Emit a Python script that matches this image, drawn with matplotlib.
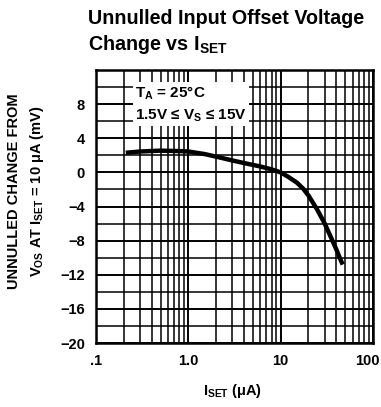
import matplotlib
matplotlib.use("Agg")
import matplotlib.pyplot as plt
from matplotlib.ticker import FixedLocator, MultipleLocator, NullFormatter
from matplotlib.transforms import ScaledTranslation

# curve
i_set = [0.21, 0.3, 0.5, 0.8, 1.0, 1.5, 2.0, 3.0, 4.0, 6.0, 8.0, 10.0, 12.0, 15.0,
         17.5, 20.0, 25.0, 30.0, 35.0, 40.0, 44.0, 47.0]
vos_change = [2.3, 2.45, 2.55, 2.5, 2.45, 2.15, 1.85, 1.4, 1.1, 0.7, 0.35, 0.0, -0.5, -1.2,
              -1.9, -2.7, -4.4, -6.0, -7.6, -9.0, -10.1, -10.8]

x_ticks = [0.1, 1.0, 10, 100]
x_labels = [".1", "1.0", "10", "100"]
y_ticks = [-20, -16, -12, -8, -4, 0, 4, 8]
y_labels = ["\u221220", "\u221216", "\u221212", "\u22128", "\u22124", "0", "4", "8"]

plt.rcParams["mathtext.default"] = "regular"
plt.rcParams["font.family"] = ["Liberation Sans", "DejaVu Sans"]

fig = plt.figure(figsize=(3.81, 4.07), dpi=100)
ax = fig.add_axes([0.252, 0.157, 0.727, 0.671])

ax.plot(i_set, vos_change, color="black", lw=3.2, solid_capstyle="butt", zorder=3)

ax.set_xscale("log")
ax.set_xlim(0.1, 100)
ax.set_ylim(-20, 12)

ax.xaxis.set_major_locator(FixedLocator(x_ticks))
ax.set_xticklabels(x_labels)
minor_x = [m * d for d in (0.1, 1, 10) for m in range(2, 10)]
ax.xaxis.set_minor_locator(FixedLocator(minor_x))
ax.xaxis.set_minor_formatter(NullFormatter())
ax.yaxis.set_major_locator(FixedLocator(y_ticks))
ax.set_yticklabels(y_labels)
ax.yaxis.set_minor_locator(MultipleLocator(2))

ax.grid(True, which="major", color="black", lw=1.4)
ax.grid(True, which="minor", color="black", lw=1.1)
ax.tick_params(which="both", length=0, pad=8)
for lab in ax.get_xticklabels() + ax.get_yticklabels():
    lab.set_fontweight("bold")
    lab.set_fontsize(10.5)
# keep "100" inside the figure like the original
last = ax.get_xticklabels()[-1]
last.set_transform(last.get_transform() + ScaledTranslation(-6 / 100, 0, fig.dpi_scale_trans))
for s in ax.spines.values():
    s.set_linewidth(1.8)

ax.text(0.265, 8, "T$_A$ = 25\u00b0C\n1.5V \u2264 V$_S$ \u2264 15V",
        fontweight="bold", fontsize=11, va="center", ha="left", linespacing=1.45,
        bbox=dict(facecolor="white", edgecolor="none", pad=1.5), zorder=4)

fig.text(0.231, 0.977, "Unnulled Input Offset Voltage\nChange vs I$_{SET}$",
         fontsize=14.2, fontweight="bold", ha="left", va="top", linespacing=1.25)

fig.text(0.037, 0.53, "UNNULLED CHANGE FROM", rotation=90,
         fontweight="bold", fontsize=10.5, ha="center", va="center")
fig.text(0.097, 0.53, "V$_{OS}$ AT I$_{SET}$ = 10 \u03bcA (mV)", rotation=90,
         fontweight="bold", fontsize=10.5, ha="center", va="center")
fig.text(0.61, 0.04, "I$_{SET}$ (\u03bcA)", fontweight="bold",
         fontsize=10.5, ha="center", va="center")

fig.savefig("out.png", dpi=100, facecolor="white")
